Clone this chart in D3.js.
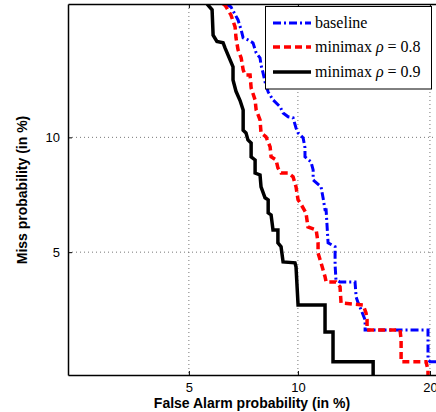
<!DOCTYPE html>
<html>
<head>
<meta charset="utf-8">
<script src="https://cdn.jsdelivr.net/npm/d3@7"></script>
<style>
  body { margin: 0; background: #fff; }
  svg { display: block; }
</style>
</head>
<body>
<div id="chart"></div>
<script>
// DET curves, values in percent
const xTicks = [5, 10, 20];
const yTicks = [5, 10];

const baselineFA = [6.41, 6.62, 6.93, 7.07, 7.16, 7.38, 7.62, 7.77, 7.96, 8.01, 8.11, 8.21, 8.37, 8.62, 9.00, 9.16, 9.44, 9.72, 9.89, 10.01, 10.31, 10.42, 10.42, 10.79, 10.92, 10.92, 11.04, 11.42, 11.55, 11.68, 11.75, 11.88, 12.35, 12.35, 12.41, 12.69, 13.76, 13.84, 13.99, 14.21, 14.51, 14.51, 19.82, 19.82, 20.01, 20.96];
const baselineMiss = [19.5, 19.25, 18.14, 17.32, 16.68, 16.53, 16.29, 15.52, 15.15, 14.63, 14.06, 13.43, 12.76, 12.24, 11.80, 11.42, 11.19, 11.13, 10.53, 10.25, 9.97, 9.43, 8.96, 8.70, 8.31, 7.84, 7.75, 7.52, 7.04, 6.54, 6.54, 5.31, 5.18, 4.60, 4.16, 4.10, 4.10, 3.70, 3.55, 3.38, 3.15, 2.93, 2.93, 2.36, 2.32, 2.32];

const mm08FA = [6.29, 6.37, 6.62, 6.80, 6.84, 6.93, 7.07, 7.16, 7.25, 7.48, 7.53, 7.72, 7.77, 7.96, 8.01, 8.26, 8.47, 8.52, 8.78, 8.88, 9.05, 9.44, 9.72, 9.89, 10.01, 10.13, 10.48, 10.60, 11.11, 11.23, 11.23, 11.42, 11.68, 11.75, 12.41, 12.69, 12.76, 14.36, 14.58, 14.66, 14.66, 17.33, 17.42, 17.42, 19.64, 19.82, 19.82];
const mm08Miss = [19.5, 19.4, 18.56, 17.57, 16.68, 15.75, 15.15, 14.28, 13.92, 13.92, 13.03, 12.24, 11.61, 11.01, 10.25, 10.03, 9.48, 8.96, 8.80, 8.41, 8.16, 8.16, 7.98, 7.52, 6.95, 6.83, 6.42, 5.88, 5.77, 5.31, 4.97, 4.66, 4.25, 4.10, 4.10, 3.97, 3.55, 3.50, 3.31, 3.15, 2.93, 2.93, 2.73, 2.32, 2.32, 2.18, 2.0];

const mm09FA = [5.66, 5.85, 5.89, 6.04, 6.29, 6.37, 6.71, 6.71, 6.84, 7.02, 7.16, 7.16, 7.29, 7.38, 7.53, 7.53, 7.72, 7.72, 7.96, 8.01, 8.21, 8.37, 8.37, 8.52, 8.62, 8.88, 8.88, 9.05, 9.16, 9.83, 9.89, 10.01, 11.68, 11.68, 12.21, 12.21, 15.13, 15.13];
const mm09Miss = [19.5, 19.0, 16.9, 16.4, 16.3, 15.9, 14.5, 13.57, 12.8, 12.2, 11.6, 10.4, 10.25, 9.86, 9.69, 8.96, 8.80, 8.16, 8.07, 7.52, 7.04, 6.95, 6.42, 6.34, 5.77, 5.77, 5.31, 5.18, 4.69, 4.66, 4.54, 3.50, 3.50, 2.89, 2.89, 2.32, 2.32, 2.0];

const seriesNames = ['baseline', 'minimax', 'minimax'];
const seriesRho = [null, '0.8', '0.9'];

// inverse normal cdf (Acklam)
function probit(p) {
  const a = [-3.969683028665376e+01, 2.209460984245205e+02, -2.759285104469687e+02, 1.383577518672690e+02, -3.066479806614716e+01, 2.506628277459239e+00];
  const b = [-5.447609879822406e+01, 1.615858368580409e+02, -1.556989798598866e+02, 6.680131188771972e+01, -1.328068155288572e+01];
  const c = [-7.784894002430293e-03, -3.223964580411365e-01, -2.400758277161838e+00, -2.549732968964310e+00, 4.374664141464968e+00, 2.938163982698783e+00];
  const d = [7.784695709041462e-03, 3.224671290700398e-01, 2.445134137142996e+00, 3.754408661907416e+00];
  const plow = 0.02425;
  let q, r;
  if (p < plow) {
    q = Math.sqrt(-2 * Math.log(p));
    return (((((c[0]*q+c[1])*q+c[2])*q+c[3])*q+c[4])*q+c[5]) / ((((d[0]*q+d[1])*q+d[2])*q+d[3])*q+1);
  } else if (p <= 1 - plow) {
    q = p - 0.5; r = q * q;
    return (((((a[0]*r+a[1])*r+a[2])*r+a[3])*r+a[4])*r+a[5])*q / (((((b[0]*r+b[1])*r+b[2])*r+b[3])*r+b[4])*r+1);
  }
  q = Math.sqrt(-2 * Math.log(1 - p));
  return -(((((c[0]*q+c[1])*q+c[2])*q+c[3])*q+c[4])*q+c[5]) / ((((d[0]*q+d[1])*q+d[2])*q+d[3])*q+1);
}
const pct = v => probit(v / 100);

const W = 436, H = 412;
const plotLeft = 68, plotTop = 4, plotBottom = 375, plotRight = 440.5;

const xLin = d3.scaleLinear().domain([pct(2.03), pct(21)]).range([plotLeft, plotRight]);
const yLin = d3.scaleLinear().domain([pct(2.1), pct(19.5)]).range([plotBottom, plotTop]);
const xPos = v => xLin(pct(v));
const yPos = v => yLin(pct(v));

const svg = d3.select('#chart').append('svg')
  .attr('width', W)
  .attr('height', H);

svg.append('defs').append('clipPath').attr('id', 'plotclip')
  .append('rect')
  .attr('x', plotLeft).attr('y', plotTop)
  .attr('width', plotRight - plotLeft).attr('height', plotBottom - plotTop);

// grid
const grid = svg.append('g');
xTicks.forEach(t => {
  grid.append('line')
    .attr('x1', xPos(t)).attr('x2', xPos(t))
    .attr('y1', plotTop).attr('y2', plotBottom)
    .style('stroke', '#777').style('stroke-width', 1)
    .style('stroke-dasharray', '1,3');
});
yTicks.forEach(t => {
  grid.append('line')
    .attr('x1', plotLeft).attr('x2', plotRight)
    .attr('y1', yPos(t)).attr('y2', yPos(t))
    .style('stroke', '#777').style('stroke-width', 1)
    .style('stroke-dasharray', '1,3');
});

// curves
const line = d3.line().x(d => xPos(d[0])).y(d => yPos(d[1]));
const curves = svg.append('g').attr('clip-path', 'url(#plotclip)');

const styles = [
  { color: '#0000ff', dash: '8,3,2,3', w: 3 },
  { color: '#ff0000', dash: '7,4', w: 3.5 },
  { color: '#000000', dash: null, w: 3.5 }
];
const data = [
  d3.zip(baselineFA, baselineMiss),
  d3.zip(mm08FA, mm08Miss),
  d3.zip(mm09FA, mm09Miss)
];

data.forEach((pts, i) => {
  curves.append('path')
    .datum(pts)
    .attr('d', line)
    .style('fill', 'none')
    .style('stroke', styles[i].color)
    .style('stroke-width', styles[i].w)
    .style('stroke-dasharray', styles[i].dash)
    .style('stroke-linejoin', 'miter');
});

// axes
const xAxis = d3.axisBottom(xLin)
  .tickValues(xTicks.map(pct))
  .tickFormat((d, i) => xTicks[i])
  .tickSizeInner(-4).tickSizeOuter(0).tickPadding(8);
const yAxis = d3.axisLeft(yLin)
  .tickValues(yTicks.map(pct))
  .tickFormat((d, i) => yTicks[i])
  .tickSizeInner(-4).tickSizeOuter(0).tickPadding(8);

const gx = svg.append('g').attr('transform', `translate(0,${plotBottom})`).call(xAxis);
const gy = svg.append('g').attr('transform', `translate(${plotLeft},0)`).call(yAxis);
const gt = svg.append('g').attr('transform', `translate(0,${plotTop})`)
  .call(d3.axisTop(xLin).tickValues(xTicks.map(pct)).tickFormat('').tickSizeInner(-4).tickSizeOuter(0));

[gx, gy, gt].forEach(g => {
  g.select('.domain').style('stroke', '#000').style('stroke-width', 1.5);
  g.selectAll('.tick line').style('stroke', '#000');
  g.selectAll('.tick text')
    .style('font-family', '"Liberation Sans", Arial, sans-serif')
    .style('font-size', '13px')
    .style('fill', '#000');
});

// axis titles
svg.append('text')
  .attr('x', 252).attr('y', 408)
  .attr('text-anchor', 'middle')
  .style('font-family', '"Liberation Sans", Arial, sans-serif')
  .style('font-weight', 'bold')
  .style('font-size', '14px')
  .text('False Alarm probability (in %)');

svg.append('text')
  .attr('transform', 'translate(27,190) rotate(-90)')
  .attr('text-anchor', 'middle')
  .style('font-family', '"Liberation Sans", Arial, sans-serif')
  .style('font-weight', 'bold')
  .style('font-size', '14px')
  .text('Miss probability (in %)');

// legend
const lg = svg.append('g');
lg.append('rect')
  .attr('x', 265.5).attr('y', 6.5)
  .attr('width', 166).attr('height', 82.5)
  .style('fill', '#fff').style('stroke', '#000').style('stroke-width', 1);

const rowY = [23, 47, 72];
seriesNames.forEach((name, i) => {
  lg.append('line')
    .attr('x1', 273).attr('x2', 311)
    .attr('y1', rowY[i]).attr('y2', rowY[i])
    .style('stroke', styles[i].color)
    .style('stroke-width', styles[i].w)
    .style('stroke-dasharray', styles[i].dash);
  const t = lg.append('text')
    .attr('x', 315).attr('y', rowY[i] + 5)
    .style('font-family', '"Liberation Serif", "Times New Roman", serif')
    .style('font-size', '16px')
    .text(name);
  if (seriesRho[i]) {
    t.append('tspan').text(' ');
    t.append('tspan').style('font-style', 'italic').text('ρ');
    t.append('tspan').text(' = ' + seriesRho[i]);
  }
});
</script>
</body>
</html>
